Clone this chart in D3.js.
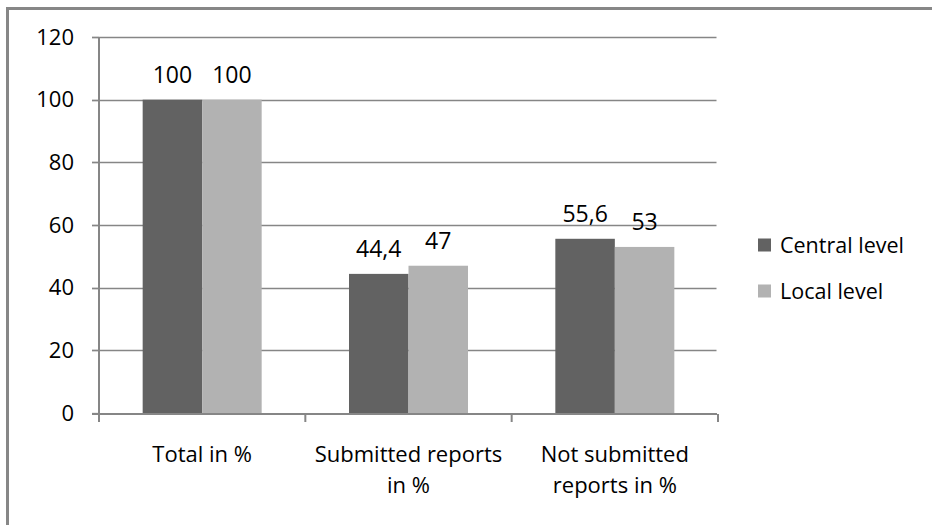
<!DOCTYPE html>
<html><head><meta charset="utf-8">
<script src="https://cdn.jsdelivr.net/npm/d3@7"></script>
<style>html,body{margin:0;padding:0;background:#fff;}svg{display:block;}</style>
</head><body>
<svg id="c" width="932" height="525"></svg>
<script>
const categories = [["Total in %"], ["Submitted reports", "in %"], ["Not submitted", "reports in %"]];
const seriesNames = ["Central level", "Local level"];
const centralValues = [100, 44.4, 55.6];
const localValues = [100, 47, 53];
const valueLabels = [["100", "100"], ["44,4", "47"], ["55,6", "53"]];
const yTicks = [0, 20, 40, 60, 80, 100, 120];
const colors = ["#626262", "#b2b2b2"];

const svg = d3.select("#c");
const font = "'Open Sans', sans-serif";

// outer frame (top and left edges)
svg.append("rect").attr("x", 6).attr("y", 7).attr("width", 926).attr("height", 3).attr("fill", "#878787");
svg.append("rect").attr("x", 6).attr("y", 7).attr("width", 3).attr("height", 518).attr("fill", "#878787");

const y = d3.scaleLinear().domain([0, 120]).range([413, 37]);
const catIdx = categories.map((d, i) => i);
const x = d3.scaleBand().domain(catIdx).range([99, 718]).padding(0);
const groupW = 119;
const x1 = d3.scaleBand().domain(seriesNames).range([0, groupW]).padding(0);
const off = (x.bandwidth() - groupW) / 2;

// gridlines
svg.append("g").selectAll("line").data(yTicks.filter(t => t > 0)).join("line")
  .attr("x1", 92).attr("x2", 716.5)
  .attr("y1", d => Math.round(y(d)) + 0.5).attr("y2", d => Math.round(y(d)) + 0.5)
  .attr("stroke", "#868686").attr("stroke-width", 1.3);

// y tick labels
svg.append("g").selectAll("text").data(yTicks).join("text")
  .attr("x", 74).attr("y", d => y(d)).attr("dy", "0.35em")
  .attr("text-anchor", "end").attr("font-family", font).attr("font-size", 22).attr("fill", "#000")
  .text(d => d);

// bars
const rows = catIdx.map(i => [centralValues[i], localValues[i]]);
const g = svg.append("g");
rows.forEach((vals, i) => {
  vals.forEach((v, j) => {
    const bx = x(i) + off + x1(seriesNames[j]);
    g.append("rect").attr("x", bx).attr("y", y(v)).attr("width", x1.bandwidth()).attr("height", y(0) - y(v)).attr("fill", colors[j]);
    g.append("text").attr("x", bx + x1.bandwidth() / 2).attr("y", y(v) - 17)
      .attr("text-anchor", "middle").attr("font-family", font).attr("font-size", 23).attr("fill", "#000")
      .text(valueLabels[i][j]);
  });
});

// y axis line with ticks
svg.append("line").attr("x1", 99).attr("x2", 99).attr("y1", 37).attr("y2", 414).attr("stroke", "#868686").attr("stroke-width", 2);
svg.append("g").selectAll("line").data(yTicks).join("line")
  .attr("x1", 92).attr("x2", 99).attr("y1", d => Math.round(y(d)) + 0.5).attr("y2", d => Math.round(y(d)) + 0.5)
  .attr("stroke", "#868686").attr("stroke-width", 1.3);
// x axis baseline
svg.append("line").attr("x1", 92).attr("x2", 717).attr("y1", 414).attr("y2", 414).attr("stroke", "#868686").attr("stroke-width", 2);
// x ticks at band boundaries
const bounds = catIdx.map(i => x(i)).concat([x(catIdx.length - 1) + x.bandwidth()]);
svg.append("g").selectAll("line").data(bounds).join("line")
  .attr("x1", d => d).attr("x2", d => d).attr("y1", 414).attr("y2", 422)
  .attr("stroke", "#868686").attr("stroke-width", 2);

// category labels
catIdx.forEach(i => {
  const t = svg.append("text").attr("x", x(i) + x.bandwidth() / 2).attr("y", 462)
    .attr("text-anchor", "middle").attr("font-family", font).attr("font-size", 22).attr("fill", "#000");
  categories[i].forEach((line, k) => {
    t.append("tspan").attr("x", x(i) + x.bandwidth() / 2).attr("dy", k === 0 ? 0 : 31).text(line);
  });
});

// legend
const leg = svg.append("g");
seriesNames.forEach((s, j) => {
  const cy = 245 + j * 46;
  leg.append("rect").attr("x", 758).attr("y", cy - 6.5).attr("width", 13).attr("height", 13).attr("fill", colors[j]);
  leg.append("text").attr("x", 780).attr("y", cy).attr("dy", "0.35em")
    .attr("font-family", font).attr("font-size", 21.5).attr("fill", "#000").text(s);
});
</script>
</body></html>
